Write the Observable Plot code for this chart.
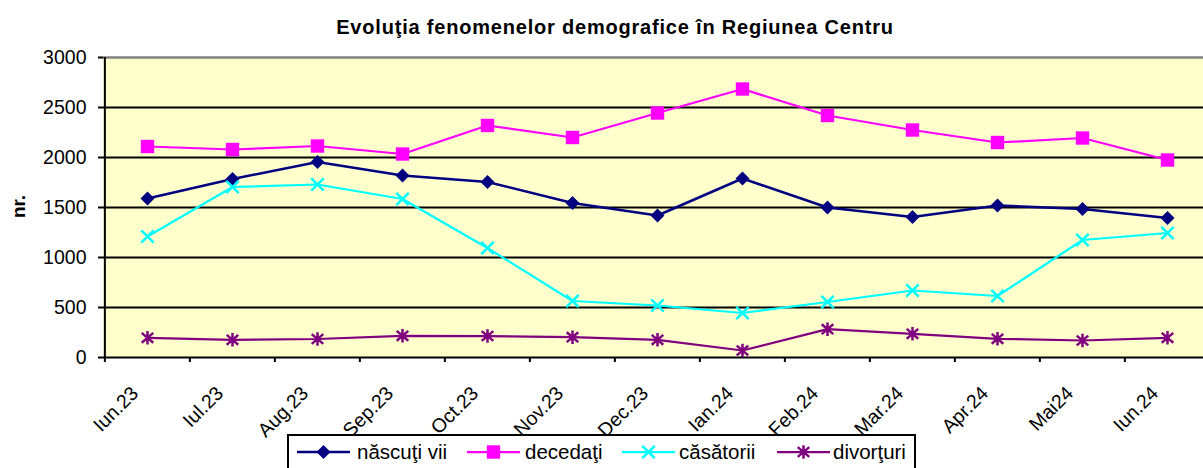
<!DOCTYPE html>
<html><head><meta charset="utf-8">
<script src="https://cdn.jsdelivr.net/npm/d3@7"></script>
<script src="https://cdn.jsdelivr.net/npm/@observablehq/plot@0.6"></script>
<style>
html,body{margin:0;padding:0;background:#fff;overflow:hidden;width:1203px;height:468px;}
body{position:relative;font-family:"Liberation Sans",Arial,sans-serif;}
#chart{position:absolute;left:0;top:0;width:1203px;height:440px;overflow:hidden;}
#title{position:absolute;left:0;width:1230px;top:16.6px;line-height:20px;text-align:center;font-weight:bold;font-size:20px;letter-spacing:0.8px;color:#000;white-space:nowrap;}
#legend{position:absolute;left:0;top:0;}
</style></head><body>
<div id="chart"></div>
<div id="title">Evoluţia fenomenelor demografice în Regiunea Centru</div>
<svg id="legend" width="1203" height="468"></svg>
<script>
const months = ["Iun.23","Iul.23","Aug.23","Sep.23","Oct.23","Nov.23","Dec.23","Ian.24","Feb.24","Mar.24","Apr.24","Mai24","Iun.24"];
const nascutiVii = [1590, 1785, 1955, 1820, 1755, 1545, 1420, 1790, 1500, 1405, 1520, 1485, 1395];
const decedati   = [2110, 2080, 2115, 2035, 2320, 2200, 2445, 2685, 2420, 2275, 2150, 2195, 1975];
const casatorii  = [1210, 1705, 1730, 1585, 1095, 565, 520, 445, 555, 670, 615, 1175, 1245];
const divorturi  = [197, 177, 185, 217, 215, 203, 177, 70, 283, 237, 187, 170, 197];
const seriesNames = ["născuţi vii", "decedaţi", "căsătorii", "divorţuri"];
const yTicks = [0, 500, 1000, 1500, 2000, 2500, 3000];
const yLabel = "nr.";

const FONT = '"Liberation Sans", Arial, sans-serif';
const W = 1203, H = 440, ML = 103, MR = -8.5, MT = 57, MB = 83;
const step = (W - MR - ML) / months.length;
const frameH = H - MT - MB;

const diamondSym = {draw(ctx, size){const r=Math.sqrt(size/Math.PI); ctx.moveTo(0,-r); ctx.lineTo(r,0); ctx.lineTo(0,r); ctx.lineTo(-r,0); ctx.closePath();}};
const squareSym = {draw(ctx, size){const r=Math.sqrt(size/Math.PI); ctx.moveTo(-r,-r); ctx.lineTo(r,-r); ctx.lineTo(r,r); ctx.lineTo(-r,r); ctx.closePath();}};
const timesSym = {draw(ctx, size){const r=Math.sqrt(size/Math.PI); ctx.moveTo(-r,-r); ctx.lineTo(r,r); ctx.moveTo(r,-r); ctx.lineTo(-r,r);}};
const asteriskSym = {draw(ctx, size){const r=Math.sqrt(size/Math.PI); const d=r*0.85; ctx.moveTo(-d,-d*0.85); ctx.lineTo(d,d*0.85); ctx.moveTo(d,-d*0.85); ctx.lineTo(-d,d*0.85); ctx.moveTo(0,-r); ctx.lineTo(0,r);}};

const series = [
  {name: seriesNames[0], values: nascutiVii, color: "#000080", sym: diamondSym, r: 7, filled: true, lw: 2.5},
  {name: seriesNames[1], values: decedati, color: "#FF00FF", sym: squareSym, r: 6.7, filled: true, lw: 2.25},
  {name: seriesNames[2], values: casatorii, color: "#00FFFF", sym: timesSym, r: 6.2, filled: false, lw: 2.25},
  {name: seriesNames[3], values: divorturi, color: "#800080", sym: asteriskSym, r: 6.8, filled: false, lw: 2.25}
];

const marks = [
  Plot.frame({fill: "#FFFFCC", stroke: "none"}),
  Plot.ruleY(yTicks.filter(v => v > 0 && v < 3000), {y: d => d, stroke: "#000", strokeWidth: 2}),
  Plot.ruleY([3000], {y: d => d, stroke: "#808080", strokeWidth: 2.5}),
  Plot.ruleY([0], {y: d => d, stroke: "#000", strokeWidth: 2}),
  Plot.ruleY(yTicks, {y: d => d, insetLeft: -5, insetRight: W - MR - ML, stroke: "#000", strokeWidth: 2}),
  Plot.ruleX([months[0]], {x: d => d, dx: -step/2, stroke: "#000", strokeWidth: 2}),
  Plot.ruleX(months, {x: d => d, dx: -step/2, insetTop: frameH, insetBottom: -5, stroke: "#000", strokeWidth: 2}),
  Plot.text(yTicks, {y: d => d, text: d => String(d), frameAnchor: "left", textAnchor: "end", dx: -17, fontSize: 19.5, fill: "#000"}),
  Plot.text([yLabel], {text: d => d, frameAnchor: "left", textAnchor: "middle", rotate: -90, dx: -85, dy: -1, fontSize: 19, fontWeight: "bold", fill: "#000"}),
  Plot.text(months, {x: d => d, text: d => d, frameAnchor: "bottom", rotate: -45, textAnchor: "end", dx: -8, dy: 37, fontSize: 19.5, fill: "#000"})
];
for (const s of series) {
  const rows = months.map((m, i) => ({month: m, value: s.values[i], series: s.name}));
  marks.push(Plot.line(rows, {x: "month", y: "value", stroke: s.color, strokeWidth: s.lw}));
}
for (const s of series) {
  const rows = months.map((m, i) => ({month: m, value: s.values[i], series: s.name}));
  marks.push(Plot.dot(rows, {x: "month", y: "value", symbol: s.sym, r: s.r,
    fill: s.filled ? s.color : "none", stroke: s.filled ? "none" : s.color, strokeWidth: s.filled ? 0 : 2.5}));
}

const chart = Plot.plot({
  width: W, height: H, marginLeft: ML, marginRight: MR, marginTop: MT, marginBottom: MB,
  x: {type: "point", domain: months, padding: 0.5, axis: null},
  y: {domain: [0, 3000], axis: null},
  style: {fontFamily: FONT, fontSize: "18px", background: "transparent", overflow: "hidden", color: "#000"},
  marks
});
document.getElementById("chart").appendChild(chart);

// legend
const lg = d3.select("#legend");
lg.append("rect").attr("x", 288).attr("y", 435).attr("width", 627).attr("height", 40)
  .attr("fill", "#fff").attr("stroke", "#000").attr("stroke-width", 2);
const starts = [297, 467, 622, 777];
const textStarts = [357, 525, 679, 833];
const ly = 452;
series.forEach((s, i) => {
  const x0 = starts[i];
  lg.append("line").attr("x1", x0).attr("x2", x0 + 53).attr("y1", ly).attr("y2", ly)
    .attr("stroke", s.color).attr("stroke-width", s.lw);
  lg.append("path").attr("transform", `translate(${x0 + 26.5},${ly})`)
    .attr("d", d3.symbol(s.sym, Math.PI * s.r * s.r)())
    .attr("fill", s.filled ? s.color : "none").attr("stroke", s.filled ? "none" : s.color).attr("stroke-width", 2.5);
  lg.append("text").attr("x", textStarts[i]).attr("y", 459).attr("font-family", FONT).attr("font-size", 20.5)
    .attr("fill", "#000").text(s.name);
});
</script>
</body></html>
